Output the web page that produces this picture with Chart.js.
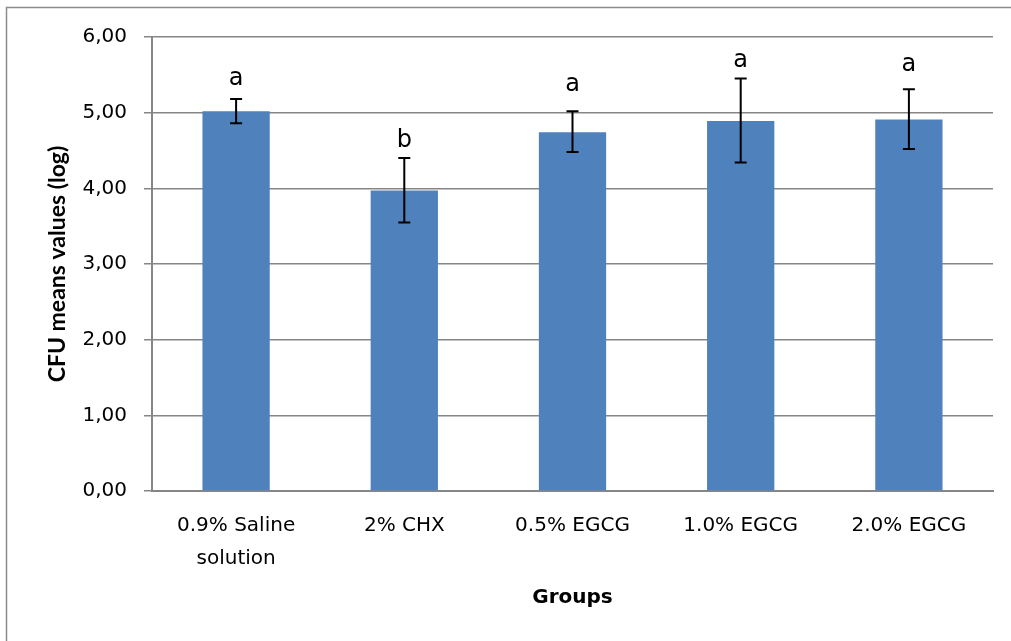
<!DOCTYPE html>
<html>
<head>
<meta charset="utf-8">
<script src="https://cdn.jsdelivr.net/npm/chart.js@4"></script>
<style>
html,body{margin:0;padding:0;background:#fff;}
#wrap{width:1011px;height:641px;position:relative;}
</style>
</head>
<body>
<div id="wrap"><canvas id="c" width="1011" height="641"></canvas></div>
<script>
const categories = [["0.9% Saline","solution"], "2% CHX", "0.5% EGCG", "1.0% EGCG", "2.0% EGCG"];
const means = [5.02, 3.97, 4.74, 4.89, 4.91];
const errUpper = [5.18, 4.40, 5.02, 5.45, 5.31];
const errLower = [4.86, 3.55, 4.48, 4.34, 4.52];
const groupLetters = ["a", "b", "a", "a", "a"];
const letterPos = [5.37, 4.55, 5.29, 5.60, 5.55];
const yTicks = [0, 1, 2, 3, 4, 5, 6];

const GRID = '#868686';

const framePlugin = {
  id: 'frame',
  beforeDraw(chart) {
    const ctx = chart.ctx;
    ctx.save();
    ctx.fillStyle = '#fff';
    ctx.fillRect(0, 0, chart.width, chart.height);
    ctx.strokeStyle = '#8c8c8c';
    ctx.lineWidth = 1.5;
    ctx.beginPath();
    ctx.moveTo(6.5, chart.height + 2);
    ctx.lineTo(6.5, 7.5);
    ctx.lineTo(chart.width + 2, 7.5);
    ctx.stroke();
    ctx.restore();
  }
};

const errPlugin = {
  id: 'errbars',
  afterDatasetsDraw(chart) {
    const ctx = chart.ctx;
    const xs = chart.scales.x, ys = chart.scales.y;
    ctx.save();
    ctx.strokeStyle = '#000';
    ctx.lineWidth = 2;
    means.forEach((m, i) => {
      const x = xs.getPixelForValue(i);
      const yt = ys.getPixelForValue(errUpper[i]);
      const yb = ys.getPixelForValue(errLower[i]);
      ctx.beginPath();
      ctx.moveTo(x, yt); ctx.lineTo(x, yb);
      ctx.moveTo(x - 6, yt); ctx.lineTo(x + 6, yt);
      ctx.moveTo(x - 6, yb); ctx.lineTo(x + 6, yb);
      ctx.stroke();
    });
    ctx.fillStyle = '#000';
    ctx.font = '24px "DejaVu Sans"';
    ctx.textAlign = 'center';
    ctx.textBaseline = 'alphabetic';
    groupLetters.forEach((l, i) => {
      ctx.fillText(l, xs.getPixelForValue(i), ys.getPixelForValue(letterPos[i]));
    });
    ctx.restore();
  }
};

new Chart(document.getElementById('c'), {
  type: 'bar',
  data: {
    labels: categories,
    datasets: [{
      data: means,
      backgroundColor: '#4F81BD',
      borderWidth: 0,
      categoryPercentage: 1.0,
      barPercentage: 0.4
    }]
  },
  plugins: [framePlugin, errPlugin],
  options: {
    responsive: false,
    animation: false,
    layout: { padding: { left: 0, top: 37, right: 18, bottom: 0 } },
    plugins: { legend: { display: false }, tooltip: { enabled: false } },
    scales: {
      x: {
        grid: { display: false, drawTicks: false },
        border: { display: true, color: GRID, width: 2 },
        ticks: {
          color: '#000',
          padding: 18,
          font: { family: '"DejaVu Sans"', size: 20, lineHeight: 1.65 },
          maxRotation: 0, autoSkip: false
        },
        title: {
          display: true, text: 'Groups', color: '#000',
          font: { family: '"DejaVu Sans"', size: 20, weight: 'bold', lineHeight: 1.2 },
          padding: { top: 0, bottom: 31 }
        },
        afterFit(s) { s.height = 150; }
      },
      y: {
        min: 0, max: 6,
        afterBuildTicks(s) { s.ticks = yTicks.map(v => ({ value: v })); },
        grid: { color: GRID, lineWidth: 1.5, tickLength: 8, drawTicks: true },
        border: { display: true, color: GRID, width: 2 },
        ticks: {
          color: '#000',
          padding: 17,
          font: { family: '"DejaVu Sans"', size: 20 },
          callback: (v) => Number(v).toFixed(2).replace('.', ',')
        },
        title: {
          display: true, text: 'CFU means values (log)', color: '#000',
          font: { family: 'Lato', size: 23, weight: 'bold', lineHeight: 1.2 },
          padding: { top: 44, bottom: 0 }
        },
        afterFit(s) { s.width = 152; }
      }
    }
  }
});
</script>
</body>
</html>
